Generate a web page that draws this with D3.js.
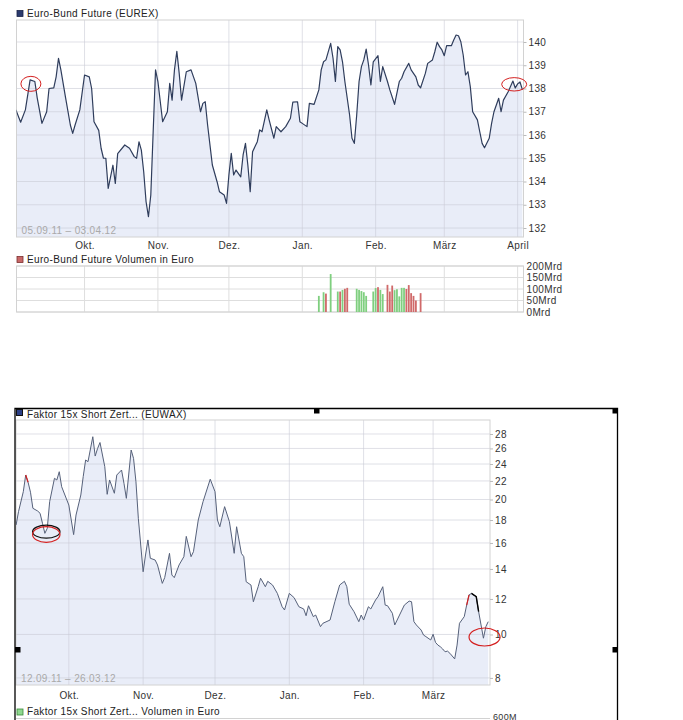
<!DOCTYPE html>
<html><head><meta charset="utf-8">
<script src="https://cdn.jsdelivr.net/npm/d3@7"></script>
<style>
body{margin:0;background:#fff}
svg{display:block}
text{font-family:"Liberation Sans",Arial,sans-serif;letter-spacing:0.35px}
</style></head>
<body>
<svg id="c" width="683" height="720"></svg>
<script>
// ---------------- DATA ----------------
const bundTitle = "Euro-Bund Future (EUREX)";
const bundVolTitle = "Euro-Bund Future Volumen in Euro";
const bundRange = "05.09.11 \u2013 03.04.12";
const bundDates = ["2011-09-02","2011-09-04","2011-09-06","2011-09-08","2011-09-10","2011-09-11","2011-09-13","2011-09-15","2011-09-16","2011-09-18","2011-09-19","2011-09-20","2011-09-21","2011-09-23","2011-09-25","2011-09-26","2011-09-27","2011-09-29",
"2011-10-01","2011-10-03","2011-10-04","2011-10-05","2011-10-07","2011-10-08","2011-10-09","2011-10-10","2011-10-11","2011-10-13","2011-10-14","2011-10-15","2011-10-18","2011-10-20","2011-10-22","2011-10-23","2011-10-24","2011-10-25","2011-10-26","2011-10-27","2011-10-28","2011-10-29","2011-10-30","2011-10-31",
"2011-11-01","2011-11-03","2011-11-05","2011-11-06","2011-11-07","2011-11-08","2011-11-09","2011-11-10","2011-11-11","2011-11-13","2011-11-15","2011-11-17","2011-11-19","2011-11-20","2011-11-21","2011-11-22","2011-11-24","2011-11-26","2011-11-27","2011-11-29","2011-11-30",
"2011-12-01","2011-12-02","2011-12-03","2011-12-04","2011-12-06","2011-12-07","2011-12-08","2011-12-09","2011-12-10","2011-12-11","2011-12-13","2011-12-14","2011-12-15","2011-12-17","2011-12-18","2011-12-20","2011-12-21","2011-12-23","2011-12-25","2011-12-27","2011-12-28","2011-12-30","2011-12-31",
"2012-01-01","2012-01-03","2012-01-04","2012-01-06","2012-01-08","2012-01-09","2012-01-10","2012-01-11","2012-01-13","2012-01-14","2012-01-15","2012-01-16","2012-01-17","2012-01-18","2012-01-19","2012-01-21","2012-01-22","2012-01-23","2012-01-24","2012-01-25","2012-01-26","2012-01-27","2012-01-28","2012-01-29","2012-01-30","2012-01-31",
"2012-02-02","2012-02-03","2012-02-04","2012-02-06","2012-02-07","2012-02-09","2012-02-11","2012-02-12","2012-02-13","2012-02-15","2012-02-16","2012-02-18","2012-02-19","2012-02-20","2012-02-22","2012-02-23","2012-02-25","2012-02-26","2012-02-27","2012-02-28","2012-02-29",
"2012-03-01","2012-03-02","2012-03-04","2012-03-05","2012-03-06","2012-03-07","2012-03-08","2012-03-09","2012-03-10","2012-03-11","2012-03-12","2012-03-13","2012-03-15","2012-03-16","2012-03-17","2012-03-18","2012-03-20","2012-03-21","2012-03-22","2012-03-24","2012-03-25","2012-03-26","2012-03-28","2012-03-30","2012-03-31",
"2012-04-01","2012-04-02","2012-04-03"];
const bundValues = [137.08,136.55,137.08,138.37,138.3,137.6,136.5,137.0,138.0,138.03,138.5,139.3,138.8,137.6,136.43,136.07,136.43,137.08,
138.58,138.5,138.0,136.57,136.2,135.43,135.0,135.0,133.7,134.7,133.92,135.2,135.57,135.43,135.07,135.0,135.71,135.35,134.42,133.13,132.49,133.42,136.14,138.8,
138.3,136.57,137.0,138.22,137.5,138.8,139.6,138.65,137.5,138.72,138.8,138.22,137.0,137.36,137.43,136.43,134.71,133.99,133.56,133.42,133.06,
134.28,135.21,134.28,134.49,134.2,135.14,135.64,134.71,133.56,135.28,135.71,136.22,136.14,137.08,136.65,135.86,136.36,136.14,136.36,136.72,137.41,137.43,136.57,
136.5,136.36,137.36,137.32,137.94,138.8,139.15,139.23,139.94,139.3,138.3,139.8,139.66,139.15,138.3,136.86,135.86,135.64,136.86,138.3,138.94,139.23,139.69,139.01,138.15,139.15,
139.41,138.3,138.94,138.3,137.94,137.32,138.3,138.44,138.72,139.08,138.8,138.5,138.15,138.03,138.65,139.08,139.23,139.58,139.99,139.8,139.66,
139.41,139.84,139.84,140.09,140.3,140.27,140.01,139.44,138.58,138.72,138.08,137.0,136.65,136.14,135.64,135.45,135.86,136.5,137.0,137.58,137.0,137.5,137.86,138.32,138.02,
138.2,138.28,137.95];
const bundTicks = [132,133,134,135,136,137,138,139,140];

const volDates = ["2012-01-08","2012-01-10","2012-01-11","2012-01-13","2012-01-16","2012-01-17","2012-01-18","2012-01-19","2012-01-20",
"2012-01-24","2012-01-25","2012-01-26","2012-01-27","2012-01-28","2012-01-31","2012-02-01","2012-02-02","2012-02-03","2012-02-04",
"2012-02-06","2012-02-07","2012-02-08","2012-02-09","2012-02-10","2012-02-11","2012-02-12","2012-02-13","2012-02-14","2012-02-15","2012-02-16","2012-02-17","2012-02-18","2012-02-20"];
const volValues = [70,86,80,165,89,89,96,101,105,101,96,91,86,70,89,104,108,96,78,118,89,115,95,99,68,105,105,100,117,82,70,50,82];
const volUp =     [1,1,0,1,1,0,1,0,0,1,1,1,1,1,1,1,0,1,1,0,0,0,1,1,1,1,1,0,0,0,0,0,0];
const volTicks = [0,50,100,150,200];
const volTickLabels = ["0Mrd","50Mrd","100Mrd","150Mrd","200Mrd"];

const faktorTitle = "Faktor 15x Short Zert... (EUWAX)";
const faktorVolTitle = "Faktor 15x Short Zert... Volumen in Euro";
const faktorVolTopLabel = "600M";
const faktorRange = "12.09.11 \u2013 26.03.12";
const faktorDates = ["2011-09-09","2011-09-10","2011-09-12","2011-09-13","2011-09-14","2011-09-15","2011-09-16","2011-09-18","2011-09-19","2011-09-20","2011-09-21","2011-09-22","2011-09-23","2011-09-25","2011-09-26","2011-09-27","2011-09-28",
"2011-10-01","2011-10-03","2011-10-04","2011-10-06","2011-10-07","2011-10-08","2011-10-09","2011-10-11","2011-10-12","2011-10-13","2011-10-14","2011-10-16","2011-10-17","2011-10-18","2011-10-20","2011-10-21","2011-10-23","2011-10-24","2011-10-25","2011-10-27","2011-10-28","2011-10-29","2011-10-30",
"2011-11-01","2011-11-02","2011-11-03","2011-11-04","2011-11-06","2011-11-07","2011-11-09","2011-11-10","2011-11-12","2011-11-13","2011-11-14","2011-11-16","2011-11-18","2011-11-19","2011-11-21","2011-11-22","2011-11-24","2011-11-26","2011-11-29",
"2011-12-01","2011-12-02","2011-12-03","2011-12-05","2011-12-07","2011-12-09","2011-12-10","2011-12-12","2011-12-13","2011-12-14","2011-12-16","2011-12-17","2011-12-19","2011-12-20","2011-12-22","2011-12-23","2011-12-25","2011-12-27","2011-12-29","2011-12-30",
"2012-01-01","2012-01-03","2012-01-05","2012-01-07","2012-01-08","2012-01-09","2012-01-11","2012-01-12","2012-01-14","2012-01-15","2012-01-18","2012-01-20","2012-01-22","2012-01-24","2012-01-25","2012-01-26","2012-01-28","2012-01-30","2012-01-31",
"2012-02-01","2012-02-03","2012-02-04","2012-02-06","2012-02-07","2012-02-09","2012-02-10","2012-02-11","2012-02-13","2012-02-14","2012-02-16","2012-02-18","2012-02-20","2012-02-21","2012-02-22","2012-02-23","2012-02-25","2012-02-26","2012-02-27","2012-02-29",
"2012-03-01","2012-03-02","2012-03-03","2012-03-04","2012-03-05","2012-03-06","2012-03-07","2012-03-08","2012-03-10","2012-03-11","2012-03-12","2012-03-14","2012-03-15","2012-03-16","2012-03-17","2012-03-19","2012-03-20","2012-03-21","2012-03-22","2012-03-23","2012-03-24"];
const faktorValues = [17.55,18.79,20.82,22.68,21.85,20.76,19.12,18.85,18.63,17.7,16.81,17.25,19.78,22.3,22.11,23.07,21.36,
19.44,16.7,18.47,20.47,22.49,24.5,24.29,27.61,25.0,26.0,26.8,23.67,20.54,22.11,20.65,22.68,23.27,21.74,20.12,25.79,24.71,21.92,18.16,
13.8,15.04,16.25,14.79,14.66,14.29,13.0,13.39,15.17,13.57,13.39,14.29,14.91,16.55,14.91,15.3,18.0,19.78,22.2,
20.82,18.0,17.39,19.28,17.85,15.17,17.39,15.17,14.91,13.11,12.89,11.83,12.78,13.35,12.78,13.14,12.89,12.35,11.53,11.34,
12.35,12.08,11.53,11.4,11.01,11.59,10.96,11.05,10.41,10.59,10.77,11.83,12.89,13.14,12.78,11.68,11.24,10.68,11.05,
10.77,11.53,11.4,11.94,12.14,12.78,11.63,11.59,11.15,10.5,11.05,11.63,11.87,11.83,10.68,10.5,10.23,9.97,9.89,9.72,
10.01,9.6,9.47,9.39,9.28,9.15,9.18,9.08,8.82,9.47,10.59,10.96,11.63,12.25,12.35,12.14,11.24,10.5,9.81,10.41,10.68];
const faktorTicks = [8,10,12,14,16,18,20,22,24,26,28];

const monthStarts = ["2011-10-01","2011-11-01","2011-12-01","2012-01-01","2012-02-01","2012-03-01","2012-04-01"];
const monthLabels = ["Okt.","Nov.","Dez.","Jan.","Feb.","März","April"];

// hand-drawn annotation circles (anchored in data space)
const bundMarks = [{date:"2011-09-08T08:00",v:138.2,rx:10,ry:7.5},{date:"2012-03-30T13:00",v:138.18,rx:12.5,ry:6.7}];
const faktorMarks = [{date:"2011-09-21T14:00",v:16.95,rx:13.7,ry:6.5,c:"#111"},{date:"2011-09-21T14:00",v:16.71,rx:13.7,ry:7.8,c:"#d42020"},{date:"2012-03-22T11:00",v:9.87,rx:15.5,ry:9,c:"#d42020"}];

// ---------------- DRAW ----------------
const parse = d3.timeParse("%Y-%m-%d");
const svg = d3.select("#c");
const months = monthStarts.map(parse);

function legend(xp, yp, label, fill, stroke){
  svg.append("rect").attr("x",xp).attr("y",yp-6).attr("width",6).attr("height",6)
    .attr("fill",fill).attr("stroke",stroke).attr("stroke-width",0.8);
  svg.append("text").attr("x",xp+10).attr("y",yp).attr("font-size",10).attr("fill","#222").text(label);
}

function priceChart(o){
  const {L,R,T,B,x,y} = o;
  const data = o.dates.map((d,i)=>({date:parse(d), v:o.values[i]}));
  const clip = o.id+"-clip";
  svg.append("clipPath").attr("id",clip).append("rect").attr("x",L).attr("y",T).attr("width",R-L).attr("height",B-T);
  const g = svg.append("g");
  g.append("rect").attr("x",L).attr("y",T).attr("width",R-L).attr("height",B-T).attr("fill","#fff");
  g.append("path").datum(data).attr("clip-path",`url(#${clip})`)
    .attr("fill","#e9edf8")
    .attr("d",d3.area().x(d=>x(d.date)).y0(B).y1(d=>y(d.v)));
  const ms = months.filter(m=>x(m)<=R);
  g.selectAll(null).data(ms).join("line").attr("x1",d=>x(d)).attr("x2",d=>x(d)).attr("y1",T).attr("y2",B)
    .attr("stroke","#c9ccd6").attr("stroke-opacity",0.6);
  g.selectAll(null).data(o.ticks).join("line").attr("x1",L).attr("x2",R).attr("y1",d=>y(d)).attr("y2",d=>y(d))
    .attr("stroke","#c9ccd6").attr("stroke-opacity",0.6);
  g.append("rect").attr("x",L).attr("y",T).attr("width",R-L).attr("height",B-T).attr("fill","none").attr("stroke","#d2d2d2");
  g.append("path").datum(data).attr("clip-path",`url(#${clip})`).attr("fill","none")
    .attr("stroke",o.lineColor).attr("stroke-width",o.lineWidth).attr("stroke-linejoin","round")
    .attr("d",d3.line().x(d=>x(d.date)).y(d=>y(d.v)));
  const ya = g.append("g").attr("transform",`translate(${R},0)`)
    .call(d3.axisRight(y).tickValues(o.ticks).tickFormat(d3.format("d")).tickSize(3).tickPadding(2));
  ya.select(".domain").remove();
  ya.selectAll("line").attr("stroke","#bbb");
  ya.selectAll("text").attr("font-size",10).attr("fill","#333").attr("font-family",null);
  const xa = g.append("g").attr("transform",`translate(0,${B})`)
    .call(d3.axisBottom(x).tickValues(ms).tickFormat((d,i)=>monthLabels[i]).tickSize(0).tickPadding(o.xPad));
  xa.select(".domain").remove();
  xa.selectAll("text").attr("font-size",10).attr("fill","#333").attr("font-family",null);
  g.append("text").attr("x",L+5).attr("y",B-3.5).attr("font-size",10).attr("fill","#a9a9a9").text(o.range);
  return {g,data,clip};
}

// ---- Chart 1: Euro-Bund ----
const c1 = {id:"bund",L:16.5,R:523.5,T:20,B:237,
  x:d3.scaleTime().domain([new Date(2011,8,2,6),new Date(2012,3,3,11,30)]).range([16.5,523.5]),
  y:d3.scaleLinear().domain([131.613,140.946]).range([237,20]),
  dates:bundDates,values:bundValues,ticks:bundTicks,range:bundRange,lineColor:"#2f3d5c",lineWidth:1.2,xPad:4.5};
legend(17,16.5,bundTitle,"#2a3a6e","#1a2448");
priceChart(c1);
bundMarks.forEach(m=>svg.append("ellipse").attr("cx",c1.x(d3.isoParse(m.date))).attr("cy",c1.y(m.v))
  .attr("rx",m.rx).attr("ry",m.ry).attr("fill","none").attr("stroke","#d42020").attr("stroke-width",1));

// volume panel
legend(17,262.5,bundVolTitle,"#c86868","#7a2f2f");
{
  const L=16.5,R=523.5,T=266,B=312;
  const x=c1.x, yv=d3.scaleLinear().domain([0,200]).range([B,T]);
  const g=svg.append("g");
  g.selectAll(null).data(months.filter(m=>x(m)<=R)).join("line").attr("x1",d=>x(d)).attr("x2",d=>x(d)).attr("y1",T).attr("y2",B).attr("stroke","#dedede");
  g.selectAll(null).data(volTicks).join("line").attr("x1",L).attr("x2",R).attr("y1",d=>yv(d)).attr("y2",d=>yv(d)).attr("stroke","#dedede");
  g.append("rect").attr("x",L).attr("y",T).attr("width",R-L).attr("height",B-T).attr("fill","none").attr("stroke","#d2d2d2");
  const vd = volDates.map((d,i)=>({date:parse(d),v:volValues[i],up:volUp[i]}));
  g.selectAll(null).data(vd).join("rect").attr("x",d=>x(d.date)-0.9).attr("width",1.8)
    .attr("y",d=>yv(d.v)).attr("height",d=>B-yv(d.v)).attr("fill",d=>d.up?"#7fcf7f":"#d06a6a");
  const va=g.append("g").attr("transform",`translate(${R},0)`)
    .call(d3.axisRight(yv).tickValues(volTicks).tickFormat((d,i)=>volTickLabels[i]).tickSize(0).tickPadding(3));
  va.select(".domain").remove();
  va.selectAll("text").attr("font-size",10).attr("fill","#333").attr("font-family",null);
}

// ---- Chart 2: Faktor 15x Short ----
const c2 = {id:"faktor",L:16,R:490,T:420,B:685,
  x:d3.scaleTime().domain([new Date(2011,8,8,22,51),new Date(2012,2,24,17,45)]).range([16,490]),
  y:d3.scaleLog().domain([7.714,30.087]).range([685,420]),
  dates:faktorDates,values:faktorValues,ticks:faktorTicks,range:faktorRange,lineColor:"#56617a",lineWidth:1,xPad:6.5};
const r2 = priceChart(c2);
const seg = (a,b)=>r2.data.filter(d=>d.date>=parse(a)&&d.date<=parse(b));
const ln = d3.line().x(d=>c2.x(d.date)).y(d=>c2.y(d.v));
svg.append("path").attr("d",ln(seg("2011-09-13","2011-09-14"))).attr("fill","none").attr("stroke","#d42020").attr("stroke-width",1.2);
svg.append("path").attr("d",ln(seg("2012-03-15","2012-03-16"))).attr("fill","none").attr("stroke","#d42020").attr("stroke-width",1.2);
svg.append("path").attr("d",ln(seg("2012-03-17","2012-03-20"))).attr("fill","none").attr("stroke","#000").attr("stroke-width",1.4);
faktorMarks.forEach(m=>svg.append("ellipse").attr("cx",c2.x(d3.isoParse(m.date))).attr("cy",c2.y(m.v))
  .attr("rx",m.rx).attr("ry",m.ry).attr("fill","none").attr("stroke",m.c).attr("stroke-width",1.2));

// volume header (at the bottom edge)
legend(17,715,faktorVolTitle,"#8fd88f","#3a8a3a");
svg.append("line").attr("x1",16).attr("x2",490).attr("y1",718.5).attr("y2",718.5).attr("stroke","#d2d2d2");
svg.append("text").attr("x",493).attr("y",719.5).attr("font-size",9).attr("fill","#333").text(faktorVolTopLabel);

// document frame with selection handles
svg.append("path").attr("d","M15,720V408.5H617.5V720").attr("fill","none").attr("stroke","#000").attr("stroke-width",1.3);
svg.append("rect").attr("x",16.5).attr("y",409.5).attr("width",6).attr("height",6).attr("fill","#2b3f86").attr("stroke","#111");
svg.append("text").attr("x",27).attr("y",418).attr("font-size",10).attr("fill","#222").text(faktorTitle);
[[314,408],[612.5,408],[15,647],[612.5,647]].forEach(([hx,hy])=>
  svg.append("rect").attr("x",hx).attr("y",hy).attr("width",5.5).attr("height",5.5).attr("fill","#000"));
</script>
</body></html>
